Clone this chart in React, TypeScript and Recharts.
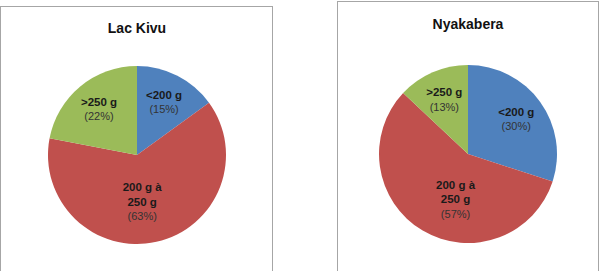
import { Cell, Pie, PieChart } from "recharts";

const categories = ["<200 g", "200 g à 250 g", ">250 g"];
const categoryLines = [["<200 g"], ["200 g à", "250 g"], [">250 g"]];
const lacKivu = [15, 63, 22];
const nyakabera = [30, 57, 13];
const colors = ["#4F81BD", "#C0504D", "#9BBB59"];

const RAD = Math.PI / 180;
const FONT = "'Liberation Sans', Arial, sans-serif";

function makeLabel(values: number[]) {
  const total = values.reduce((a, b) => a + b, 0);
  return (props: any) => {
    const { cx, cy, midAngle, outerRadius, index } = props;
    const share = values[index] / total;
    // big slice: label pulled toward the bottom and closer to the centre, like Excel
    let ang = midAngle;
    let r = outerRadius * 0.67;
    if (share > 0.5) {
      ang = -90 + (midAngle + 90) * 0.5;
      r = outerRadius * 0.53;
    }
    const x = cx + r * Math.cos(-ang * RAD);
    const y = cy + r * Math.sin(-ang * RAD);
    const lines = categoryLines[index];
    const n = lines.length + 1;
    const lh = 14.5;
    const top = y - ((n - 1) * lh) / 2;
    return (
      <text x={x} textAnchor="middle" dominantBaseline="central" fontFamily={FONT} fontSize={11.5} fill="#1a1a1a">
        {lines.map((l, i) => (
          <tspan key={i} x={x} y={top + i * lh} fontWeight="bold">
            {l}
          </tspan>
        ))}
        <tspan x={x} y={top + lines.length * lh} fontSize={11} fill="#333">
          ({values[index]}%)
        </tspan>
      </text>
    );
  };
}

function PiePanel({ title, values, left, top, width, height, cx, cy, ty }: any) {
  const data = categories.map((c, i) => ({ name: c, value: values[i] }));
  return (
    <div
      style={{
        position: "absolute",
        left,
        top,
        width,
        height,
        border: "1px solid #a6a6a6",
        boxSizing: "border-box",
        background: "#fff",
      }}
    >
      <PieChart width={width - 2} height={height - 2} margin={{ top: 0, right: 0, bottom: 0, left: 0 }}>
        <text x={cx} y={ty} textAnchor="middle" dominantBaseline="central" fontFamily={FONT} fontWeight="bold" fontSize={14} fill="#111">
          {title}
        </text>
        <Pie
          data={data}
          dataKey="value"
          nameKey="name"
          cx={cx}
          cy={cy}
          outerRadius={89}
          startAngle={90}
          endAngle={-270}
          stroke="none"
          label={makeLabel(values)}
          labelLine={false}
          isAnimationActive={false}
        >
          {data.map((d, i) => (
            <Cell key={d.name} fill={colors[i]} />
          ))}
        </Pie>
      </PieChart>
    </div>
  );
}

export default function App() {
  return (
    <div style={{ position: "absolute", left: 0, top: 0, width: 603, height: 271, background: "#fff", overflow: "hidden" }}>
      <PiePanel title="Lac Kivu" values={lacKivu} left={0} top={6} width={273} height={280} cx={136} cy={148} ty={21} />
      <PiePanel title="Nyakabera" values={nyakabera} left={337} top={1} width={262} height={285} cx={130} cy={152} ty={22} />
    </div>
  );
}
